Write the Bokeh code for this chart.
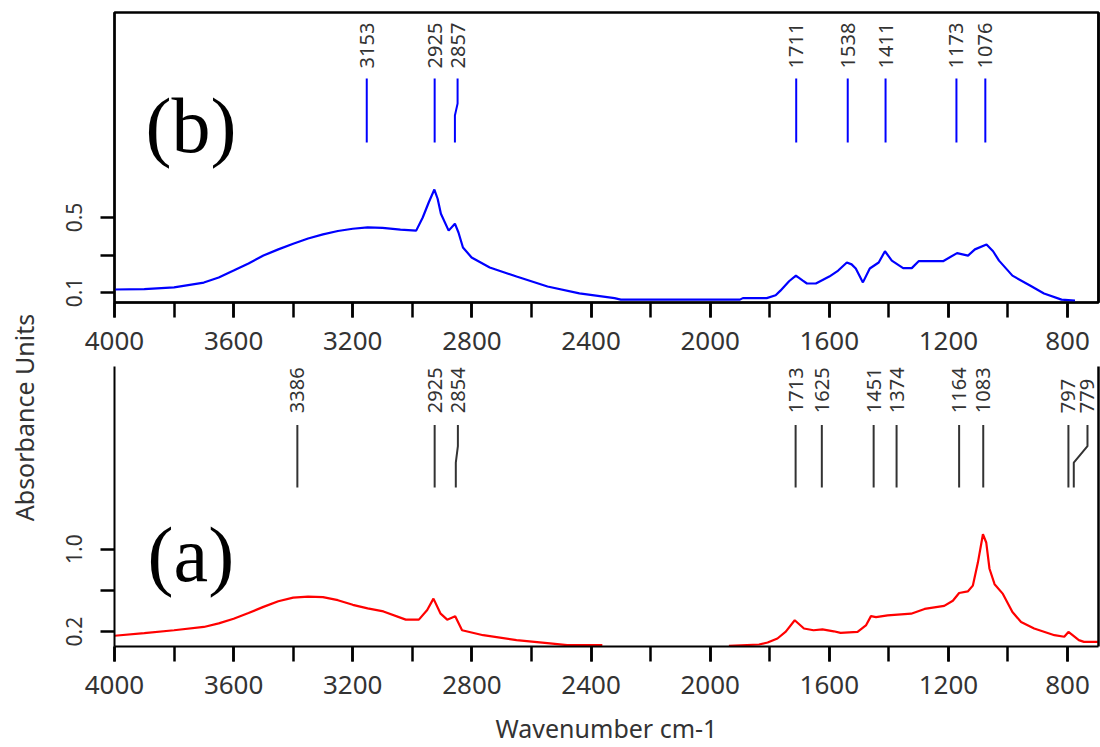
import math
import numpy as np
from bokeh.plotting import figure
from bokeh.models import Range1d, FixedTicker, LinearAxis, Label, ColumnDataSource
from bokeh.layouts import row, column
from bokeh.embed import file_html
from bokeh.resources import INLINE
from bokeh.core.properties import value

# ---------------- data ----------------
# (b) spectrum, blue
blue_wn = [4000, 3900, 3800, 3700, 3650, 3600, 3550, 3500, 3450, 3400, 3350, 3300, 3250, 3200,
           3150, 3100, 3040, 2987, 2965, 2945, 2926, 2915, 2904, 2878, 2857, 2845, 2830, 2801,
           2740, 2650, 2546, 2439, 2321, 2300, 1900, 1890, 1810, 1780, 1764, 1735, 1712, 1690,
           1675, 1645, 1600, 1570, 1541, 1525, 1511, 1487, 1464, 1434, 1413, 1390, 1352, 1323,
           1300, 1218, 1171, 1134, 1111, 1072, 1050, 1030, 985, 926, 879, 820, 775]
blue_abs = [0.116, 0.118, 0.127, 0.153, 0.180, 0.217, 0.255, 0.297, 0.330, 0.360, 0.388, 0.410,
            0.428, 0.440, 0.447, 0.445, 0.435, 0.430, 0.500, 0.580, 0.649, 0.600, 0.520, 0.430,
            0.467, 0.420, 0.340, 0.287, 0.233, 0.185, 0.132, 0.095, 0.070, 0.062, 0.062, 0.070,
            0.070, 0.085, 0.110, 0.160, 0.190, 0.165, 0.148, 0.148, 0.185, 0.217, 0.260, 0.250,
            0.228, 0.154, 0.228, 0.260, 0.320, 0.270, 0.230, 0.230, 0.267, 0.267, 0.310, 0.297,
            0.330, 0.356, 0.320, 0.270, 0.190, 0.137, 0.095, 0.062, 0.057]

# (a) spectrum, red (gap in the recorded data between ~2360 and ~1940)
red_wn = [4000, 3900, 3800, 3700, 3650, 3600, 3550, 3500, 3450, 3400, 3350, 3300, 3250, 3200,
          3150, 3097, 3022, 2978, 2950, 2929, 2905, 2883, 2856, 2833, 2762, 2650, 2538, 2480, 2362,
          2150,
          1937, 1836, 1807, 1774, 1746, 1716, 1685, 1653, 1623, 1585, 1562, 1505,
          1477, 1460, 1443, 1404, 1325, 1280, 1214, 1185, 1164, 1135, 1118, 1101,
          1084, 1073, 1062, 1045, 1017, 985, 956, 912, 844, 811, 797, 783, 762, 745, 698]
red_abs = [0.160, 0.185, 0.213, 0.245, 0.280, 0.325, 0.380, 0.440, 0.495, 0.530, 0.540, 0.535,
           0.505, 0.460, 0.425, 0.396, 0.316,
           0.316, 0.410, 0.520, 0.374, 0.316, 0.350, 0.213, 0.165, 0.117, 0.085, 0.068, 0.068,
           float("nan"),
           0.062, 0.075, 0.094, 0.133, 0.200, 0.310, 0.230, 0.213, 0.222, 0.203, 0.187, 0.197,
           0.260, 0.350, 0.340, 0.357, 0.374, 0.420, 0.450, 0.500, 0.575, 0.590, 0.646, 0.870,
           1.145, 1.065, 0.810, 0.660, 0.566, 0.390, 0.293, 0.230, 0.165, 0.150, 0.197, 0.165, 0.117, 0.100, 0.100]

# peak annotations
top_peaks = [3153, 2925, 2857, 1711, 1538, 1411, 1173, 1076]
top_label_x = [3153, 2925, 2848, 1711, 1538, 1411, 1173, 1076]
bottom_peaks = [3386, 2925, 2854, 1713, 1625, 1451, 1374, 1164, 1083, 797, 779]
bottom_label_x = [3386, 2925, 2847, 1713, 1625, 1451, 1374, 1164, 1083, 797, 733]

x_ticks = [4000, 3600, 3200, 2800, 2400, 2000, 1600, 1200, 800]
x_minor_ticks = [4000, 3800, 3600, 3400, 3200, 3000, 2800, 2600, 2400, 2200, 2000,
                 1800, 1600, 1400, 1200, 1000, 800]
top_y_ticks = [0.1, 0.5]
top_y_minor = [0.3]
top_y_labels = {0.1: "0.1", 0.5: "0.5"}
bottom_y_ticks = [0.2, 1.0]
bottom_y_minor = [0.6]
bottom_y_labels = {0.2: "0.2", 1.0: "1.0"}

# ---------------- style ----------------
FONT = "Noto Sans"
TXT = "#333333"
X_START, X_END = 4000, 696
FIG_W = 1050
LEFT_B = 64


def style_fig(p, yticks, yminor, ylabels):
    p.xgrid.visible = False
    p.ygrid.visible = False
    p.background_fill_color = "white"
    p.border_fill_color = "white"
    xa = p.xaxis[0]
    xa.ticker = FixedTicker(ticks=x_ticks, minor_ticks=x_minor_ticks)
    xa.major_label_overrides = {t: str(t) for t in x_ticks}
    xa.axis_line_width = 2
    xa.axis_line_color = "black"
    xa.major_tick_line_width = 2.5
    xa.minor_tick_line_width = 2.5
    xa.major_tick_in = 0
    xa.minor_tick_in = 0
    xa.major_tick_out = 15
    xa.minor_tick_out = 15
    xa.major_label_standoff = 14
    xa.major_label_text_font = FONT
    xa.major_label_text_font_size = "26px"
    xa.major_label_text_color = TXT
    ya = p.yaxis[0]
    ya.ticker = FixedTicker(ticks=yticks, minor_ticks=yminor)
    ya.major_label_overrides = ylabels
    ya.axis_line_width = 2
    ya.major_tick_line_width = 2.5
    ya.minor_tick_line_width = 2.5
    ya.major_tick_in = 0
    ya.minor_tick_in = 0
    ya.major_tick_out = 14
    ya.minor_tick_out = 14
    ya.major_label_standoff = 18
    ya.major_label_orientation = "vertical"
    ya.major_label_text_font = FONT
    ya.major_label_text_font_size = "21px"
    ya.major_label_text_color = TXT
    ra = LinearAxis(ticker=FixedTicker(ticks=[]), axis_line_width=2.5,
                    major_tick_out=0, major_tick_in=0, minor_tick_out=0, minor_tick_in=0,
                    major_label_standoff=0, major_label_text_font_size="0px")
    p.add_layout(ra, "right")


def add_peaks(p, peaks, label_x, y0, yk1, yk2, y1, ytext, color):
    xs = [[pk, pk, lx, lx] for pk, lx in zip(peaks, label_x)]
    ys = [[y0, yk1, yk2, y1] for _ in peaks]
    p.multi_line(xs=xs, ys=ys, line_color=color, line_width=2)
    src = ColumnDataSource(dict(x=label_x, y=[ytext] * len(label_x),
                                t=[str(v) for v in peaks]))
    p.text(x="x", y="y", text="t", source=src, angle=math.pi / 2,
           text_align="left", text_baseline="middle",
           text_font=value(FONT), text_font_size="20px", text_color=TXT)


# ---------------- top panel (b) ----------------
top = figure(width=FIG_W, height=366, x_range=Range1d(X_START, X_END),
             y_range=Range1d(0.0467, 1.5933), output_backend="svg", toolbar_location=None,
             min_border_left=LEFT_B, min_border_right=2, min_border_top=12, min_border_bottom=64)
top.outline_line_color = "black"
top.outline_line_width = 2.5
top.outline_line_alpha = 1
style_fig(top, top_y_ticks, top_y_minor, top_y_labels)
top.line(blue_wn, blue_abs, line_color="#0000ff", line_width=2.2)
add_peaks(top, top_peaks, top_label_x, 0.90, 1.044, 1.108, 1.241, 1.295, "#0000ff")
top.add_layout(Label(x=3896, y=0.99, text="(b)", text_font="Liberation Serif",
                     text_font_size="78px", text_color="black",
                     text_align="left", text_baseline="alphabetic"))

# ---------------- bottom panel (a) ----------------
bottom = figure(width=FIG_W, height=381, x_range=Range1d(X_START, X_END),
                y_range=Range1d(0.0554, 2.773), output_backend="svg", toolbar_location=None,
                min_border_left=LEFT_B, min_border_right=2, min_border_top=0, min_border_bottom=99)
bottom.outline_line_color = None
style_fig(bottom, bottom_y_ticks, bottom_y_minor, bottom_y_labels)
bottom.xaxis[0].axis_label = "Wavenumber cm-1"
bottom.xaxis[0].axis_label_text_font = FONT
bottom.xaxis[0].axis_label_text_font_size = "25px"
bottom.xaxis[0].axis_label_text_font_style = "normal"
bottom.xaxis[0].axis_label_text_color = TXT
bottom.xaxis[0].axis_label_standoff = 14
bottom.line(red_wn, red_abs, line_color="#ff0000", line_width=2.2)
add_peaks(bottom, bottom_peaks, bottom_label_x, 1.598, 1.84, 2.0, 2.205, 2.32, "#333333")
bottom.add_layout(Label(x=3889, y=0.95, text="(a)", text_font="Liberation Serif",
                        text_font_size="78px", text_color="black",
                        text_align="left", text_baseline="alphabetic"))

# ---------------- shared y-axis title ----------------
side = figure(width=50, height=747, x_range=Range1d(0, 50), y_range=Range1d(747, 0),
              output_backend="svg", toolbar_location=None, min_border=0,
              x_axis_type=None, y_axis_type=None)
side.outline_line_color = None
side.xgrid.visible = False
side.ygrid.visible = False
side.add_layout(Label(x=23, y=417, text="Absorbance Units", angle=math.pi / 2,
                      text_align="center", text_baseline="middle",
                      text_font=FONT, text_font_size="25px", text_color=TXT))

layout = row(side, column(top, bottom, spacing=0), spacing=0)
open("out.html", "w").write(file_html(layout, INLINE))
